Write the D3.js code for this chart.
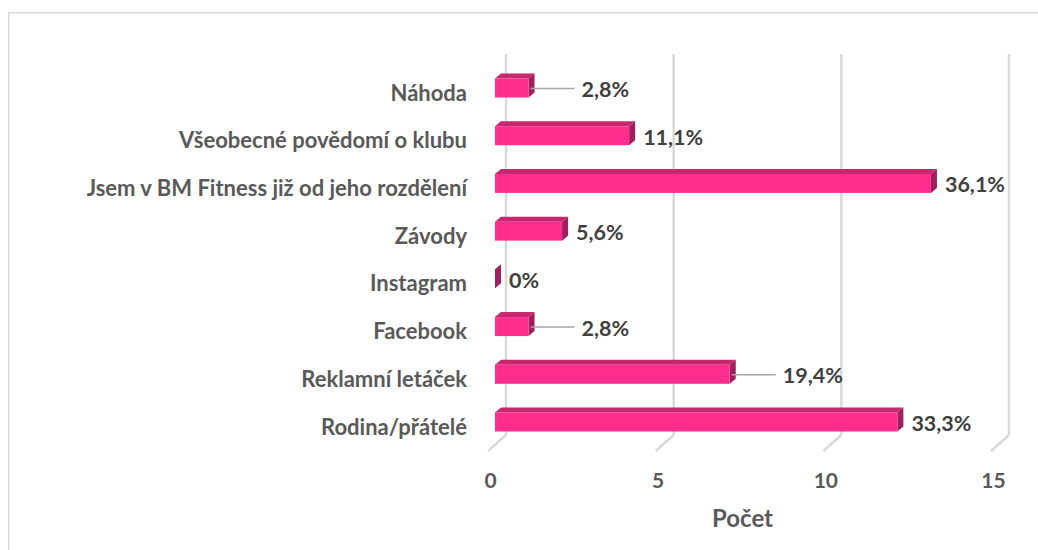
<!DOCTYPE html>
<html><head><meta charset="utf-8">
<script src="https://cdn.jsdelivr.net/npm/d3@7"></script>
<style>html,body{margin:0;padding:0;background:#fff;overflow:hidden}svg{display:block}</style>
</head><body>
<svg id="chart" width="1038" height="550"></svg>
<script>
const categories = ["Náhoda","Všeobecné povědomí o klubu","Jsem v BM Fitness již od jeho rozdělení","Závody","Instagram","Facebook","Reklamní letáček","Rodina/přátelé"];
const values = [1,4,13,2,0,1,7,12];
const valueLabels = ["2,8%","11,1%","36,1%","5,6%","0%","2,8%","19,4%","33,3%"];
const hasLeader = [true,false,false,false,false,true,true,false];
const ticks = [0,5,10,15];
const axisTitle = "Počet";

const svg = d3.select("#chart");
const font = "Lato, 'Open Sans', sans-serif";

// border
svg.append("rect").attr("x",8.75).attr("y",12.75).attr("width",1100).attr("height",600)
  .attr("fill","none").attr("stroke","#d9d9d9").attr("stroke-width",1.5);

const x = d3.scaleLinear().domain([0,15]).range([506,1009]);
const y = d3.scalePoint().domain(categories).range([88,422]);
const wallTop = 54, wallBottom = 435;
const floorDX = -18, floorDY = 16;
const frontDX = -11, depthDX = 6, depthDY = 5, halfH = 9.5;

// back wall gridlines + floor diagonals
const grid = svg.append("g").attr("stroke","#d9d9d9").attr("stroke-width",2.5).attr("fill","none");
ticks.forEach(t => {
  grid.append("line").attr("x1",x(t)).attr("x2",x(t)).attr("y1",wallTop).attr("y2",wallBottom);
  grid.append("line").attr("x1",x(t)).attr("y1",wallBottom).attr("x2",x(t)+floorDX).attr("y2",wallBottom+floorDY);
});

// tick labels
svg.append("g").selectAll("text").data(ticks).join("text")
  .attr("x",d=>x(d)+floorDX+2.5).attr("y",488)
  .attr("text-anchor","middle").attr("font-family",font).attr("font-weight","bold")
  .attr("font-size",21).attr("fill","#595959").text(d=>d);

svg.append("text").attr("x",(x(0)+x(15))/2+floorDX+3).attr("y",527)
  .attr("text-anchor","middle").attr("font-family",font).attr("font-weight","bold")
  .attr("font-size",24).attr("fill","#595959").text(axisTitle);

// bars
const data = categories.map((c,i)=>({c, v:values[i], lab:valueLabels[i], lead:hasLeader[i]}));
const bars = svg.append("g");
data.forEach(d => {
  const c = y(d.c);
  const x0 = x(0)+frontDX, x1 = x(d.v)+frontDX;
  const t = c-halfH, b = c+halfH;
  const g = bars.append("g");
  g.append("polygon").attr("points",[[x0,t],[x1,t],[x1+depthDX,t-depthDY],[x0+depthDX,t-depthDY]].join(" "))
    .attr("fill","#C5286D");
  g.append("polygon").attr("points",[[x1,t],[x1+depthDX,t-depthDY],[x1+depthDX,b-depthDY],[x1,b]].join(" "))
    .attr("fill","#A31E5C");
  if (x1 > x0) g.append("rect").attr("x",x0).attr("y",t).attr("width",x1-x0).attr("height",b-t)
    .attr("fill","#FF2D8D");
});

// category labels
svg.append("g").selectAll("text").data(data).join("text")
  .attr("x",467).attr("y",d=>y(d.c)+12.5)
  .attr("text-anchor","end").attr("font-family",font).attr("font-weight","bold")
  .attr("font-size",22).attr("fill","#595959").text(d=>d.c);

// leader lines
svg.append("g").selectAll("line").data(data.filter(d=>d.lead)).join("line")
  .attr("x1",d=>x(d.v)+frontDX+2).attr("x2",d=>x(d.v)+frontDX+46)
  .attr("y1",d=>y(d.c)+0.5).attr("y2",d=>y(d.c)+0.5)
  .attr("stroke","#a6a6a6").attr("stroke-width",1.5);

// data labels
svg.append("g").selectAll("text").data(data).join("text")
  .attr("x",d=>x(d.v)+frontDX+(d.lead?53:14)).attr("y",d=>y(d.c)+9)
  .attr("font-family",font).attr("font-weight","bold")
  .attr("font-size",21.5).attr("fill","#404040").text(d=>d.lab);
</script>
</body></html>
